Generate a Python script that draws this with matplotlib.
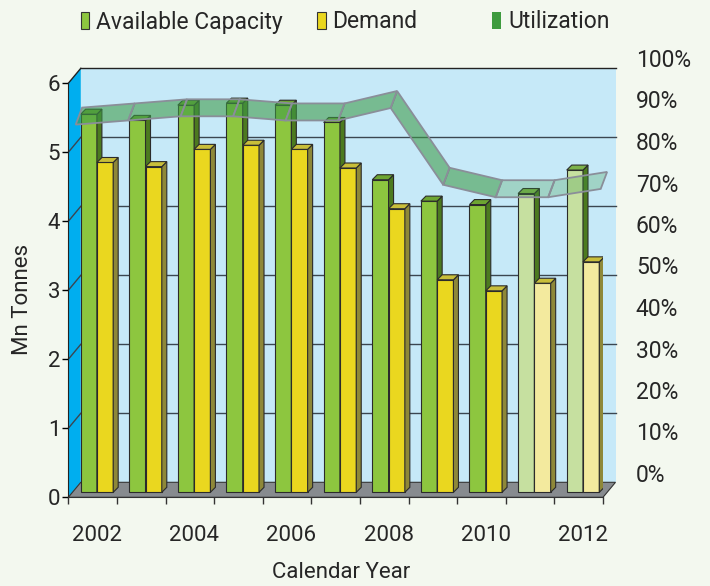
import matplotlib.pyplot as plt
from matplotlib.patches import Polygon, Rectangle
from matplotlib.transforms import ScaledTranslation

# data
years = [2002, 2003, 2004, 2005, 2006, 2007, 2008, 2009, 2010, 2011, 2012]
capacity = [5.48, 5.39, 5.61, 5.64, 5.61, 5.36, 4.53, 4.22, 4.17, 4.33, 4.67]
demand = [4.78, 4.72, 4.97, 5.03, 4.97, 4.70, 4.11, 3.08, 2.92, 3.03, 3.34]
utilization = [86, 87, 88, 88, 87, 87, 90, 71.5, 68.5, 68.5, 70.5]
projected = [False] * 9 + [True, True]
y_ticks = [0, 1, 2, 3, 4, 5, 6]
pct_ticks = [0, 10, 20, 30, 40, 50, 60, 70, 80, 90, 100]

BG = '#F3F8EF'
TXT = '#262626'
plt.rcParams['font.family'] = ['Roboto', 'DejaVu Sans']

W, H = 710, 586
fig = plt.figure(figsize=(W / 100, H / 100), dpi=100, facecolor=BG)

# front plane of the 3D box
ax = fig.add_axes([68.3 / W, 1 - 497.3 / H, 534.7 / W, 414 / H])
ax.set_xlim(-0.5, 10.5)
ax.set_ylim(0, 6)
ax.patch.set_visible(False)
x0, x1 = -0.5, 10.5
sx, sy = 534.7 / 11, 414 / 6          # pixels per data unit
bx, by = 12.5 / sx, 15 / sy            # depth of the box
px, py = 4.3 / sx, 5 / sy              # plane where the bars stand
dx, dy = 5 / sx, 5 / sy                # depth of one bar

# walls and floor
ax.add_patch(Rectangle((x0 + bx, by), x1 - x0, 6, fc='#C6E9F8', ec='none',
                       zorder=0, clip_on=False))
ax.add_patch(Polygon([(x0, 0), (x0, 6), (x0 + bx, 6 + by), (x0 + bx, by)],
                     fc='#00AEEF', ec='none', zorder=0.5, clip_on=False))
ax.add_patch(Polygon([(x0, 0), (x1, 0), (x1 + bx, by), (x0 + bx, by)],
                     fc='#878B8F', ec='#333333', lw=0.8, zorder=1, clip_on=False))
for v in y_ticks[1:]:
    c = '#222222' if v == 6 else '#3b4650'
    ax.plot([x0 + bx, x1 + bx], [v + by, v + by], color=c, lw=1, zorder=0.8, clip_on=False)
    ax.plot([x0, x0 + bx], [v, v + by], color=c, lw=1, zorder=0.8, clip_on=False)

# bars
w = 0.335
for i in range(len(years)):
    if projected[i]:
        cap_cols = ('#C6E0A0', '#4C7A1F', '#7DB24A')
        dem_cols = ('#F3EA9E', '#8E8838', '#C8BE3A')
    else:
        cap_cols = ('#8DC63F', '#4C7A1F', '#6DA532')
        dem_cols = ('#EAD71F', '#8E8838', '#C8BE3A')
    for val, left, cols, z in [(capacity[i], i - w + px, cap_cols, 3),
                               (demand[i], i + px, dem_cols, 4)]:
        ax.bar(left, val, w, bottom=py, align='edge', color=cols[0],
               edgecolor='#2b2b2b', lw=0.8, zorder=z)
        top = py + val
        ax.add_patch(Polygon([(left + w, py), (left + w, top), (left + w + dx, top + dy),
                              (left + w + dx, py + dy)],
                             fc=cols[1], ec='#2b2b2b', lw=0.8, zorder=z))
        ax.add_patch(Polygon([(left, top), (left + w, top), (left + w + dx, top + dy),
                              (left + dx, top + dy)],
                             fc=cols[2], ec='#2b2b2b', lw=0.8, zorder=z))

for s in ['top', 'right']:
    ax.spines[s].set_visible(False)
ax.spines['left'].set_color('#222222')
ax.spines['bottom'].set_color('#333333')
ax.set_yticks(y_ticks)
ax.tick_params(axis='y', length=4.3, width=1, pad=1.5, labelsize=16, labelcolor=TXT)
ax.set_xticks(range(0, 11, 2))
ax.set_xticklabels([str(y) for y in years[::2]])
ax.set_xticks([i - 0.5 for i in range(12)], minor=True)
ax.tick_params(axis='x', which='major', length=0, pad=20, labelsize=16, labelcolor=TXT)
ax.tick_params(axis='x', which='minor', length=5, width=1, color='#333333')
shift = ScaledTranslation(4.3 / 100, 0, fig.dpi_scale_trans)
for lab in ax.get_xticklabels():
    lab.set_transform(lab.get_transform() + shift)

ax.set_ylabel('Mn Tonnes', fontsize=16, color=TXT)
ax.yaxis.set_label_coords(-0.066, 0.477)
ax.set_xlabel('Calendar Year', fontsize=16, color=TXT)
ax.xaxis.set_label_coords(0.51, -0.156)

# utilization ribbon on its own percent scale
ax2 = fig.add_axes([78.9 / W, 113 / H, 525 / W, 415 / H])
ax2.set_xlim(0, 10)
ax2.set_ylim(0, 100)
ax2.patch.set_visible(False)
for s in ax2.spines.values():
    s.set_visible(False)
ax2.set_xticks([])
ax2.yaxis.tick_right()
ax2.set_yticks(pct_ticks)
ax2.set_yticklabels([f'{p}%' for p in pct_ticks])
ax2.tick_params(axis='y', length=0, pad=23, labelsize=16.5, labelcolor=TXT)
rx, ry = 3.2 / 52.5, 8.5 / 4.15
for i in range(len(years) - 1):
    u0, u1 = utilization[i], utilization[i + 1]
    a = 0.28 if projected[i + 1] else 0.58
    ax2.add_patch(Polygon([(i - rx, u0 - ry), (i + 1 - rx, u1 - ry),
                           (i + 1 + rx, u1 + ry), (i + rx, u0 + ry)],
                          fc=(0.243, 0.608, 0.278, a), ec='#8A8E99', lw=1.3,
                          zorder=5, clip_on=False))

# legend
entries = [('Available Capacity', '#8DC63F', '#333333', 80.7),
           ('Demand', '#EAD71F', '#333333', 317),
           ('Utilization', '#3E9B3E', 'none', 492.3)]
for lab, fc, ec, xp in entries:
    fig.legend(handles=[Rectangle((0, 0), 1, 1, fc=fc, ec=ec, lw=0.8)], labels=[lab],
               loc='center left', bbox_to_anchor=(xp / W, 1 - 22 / H), frameon=False,
               handlelength=0.38, handleheight=0.8, handletextpad=0.3, borderpad=0,
               borderaxespad=0, fontsize=16.5, labelcolor=TXT)

fig.savefig('out.png', dpi=100, facecolor=BG)
